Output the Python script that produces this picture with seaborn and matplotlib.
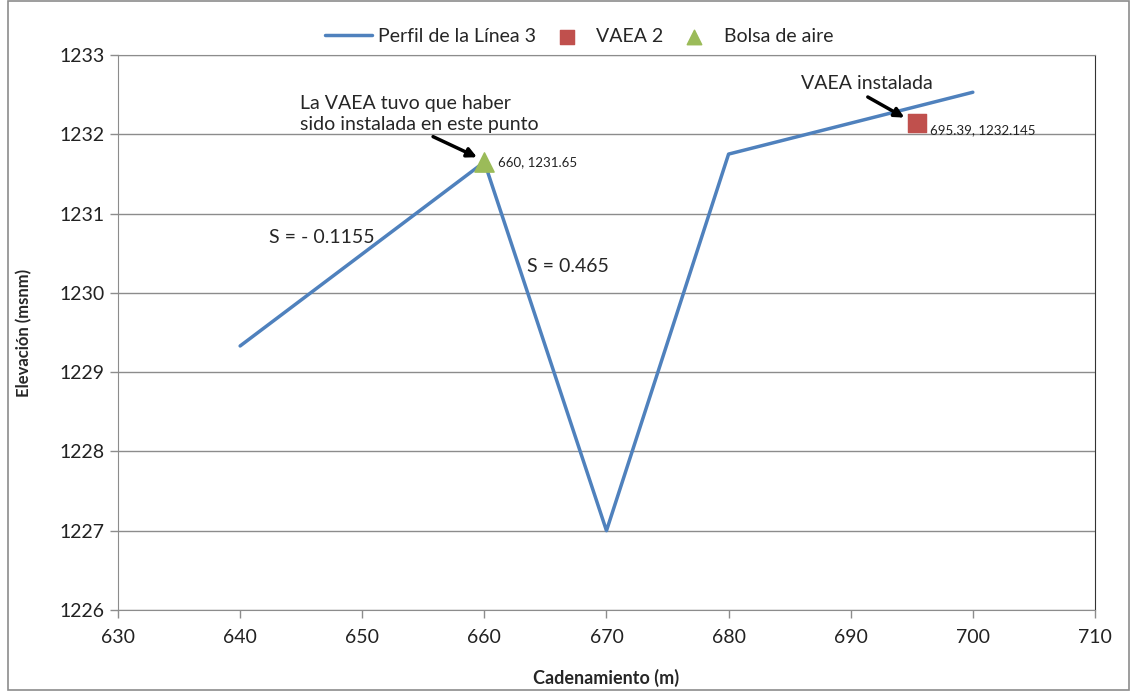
import pandas as pd
import seaborn as sns
import matplotlib.pyplot as plt
from matplotlib.patches import Rectangle

# Perfil de la linea 3
cadenamiento = [640, 660, 670, 680, 700]
elevacion = [1229.33, 1231.65, 1227.0, 1231.75, 1232.53]

# VAEA 2 (instalada)
vaea_x = [695.39]
vaea_y = [1232.145]

# Bolsa de aire
bolsa_x = [660]
bolsa_y = [1231.65]

df = pd.DataFrame({'x': cadenamiento, 'y': elevacion})

sns.set_style('white')
plt.rcParams['font.family'] = ['Lato', 'DejaVu Sans']

fig = plt.figure(figsize=(11.37, 6.96), dpi=100)
ax = fig.add_axes([0.1038, 0.1236, 0.8592, 0.7974])

# outer chart border
fig.patches.append(Rectangle((0.007, 0.008), 0.986, 0.99, transform=fig.transFigure,
                             fill=False, edgecolor='#8c8c8c', linewidth=1.2))

sns.lineplot(data=df, x='x', y='y', ax=ax, color='#4F81BD', linewidth=2.5,
             label='Perfil de la Línea 3', zorder=3)
sns.scatterplot(x=vaea_x, y=vaea_y, ax=ax, marker='s', s=170, color='#C0504D',
                edgecolor='#C0504D', label='VAEA 2', zorder=4)
sns.scatterplot(x=bolsa_x, y=bolsa_y, ax=ax, marker='^', s=190, color='#9BBB59',
                edgecolor='#9BBB59', label='Bolsa de aire', zorder=4)

ax.set_xlim(630, 710)
ax.set_ylim(1226, 1233)
ax.set_xticks(range(630, 711, 10))
ax.set_yticks(range(1226, 1234))
ax.yaxis.grid(True, color='#8c8c8c', linewidth=1.0)
ax.xaxis.grid(False)

for s in ['left', 'bottom']:
    ax.spines[s].set_color('#8c8c8c')
ax.spines['top'].set_color('#8c8c8c')
ax.spines['right'].set_color('#333333')
ax.tick_params(axis='both', which='both', direction='out', length=6, width=1,
               color='#8c8c8c', labelsize=14, labelcolor='#222222', left=True, bottom=True)
ax.tick_params(axis='x', pad=8)

ax.set_xlabel('Cadenamiento (m)', fontsize=13, fontweight='bold', labelpad=16)
ax.set_ylabel('Elevación (msnm)', fontsize=12, fontweight='bold', labelpad=20)

# data labels
ax.text(bolsa_x[0] + 1.1, bolsa_y[0], f'{bolsa_x[0]}, {bolsa_y[0]}', fontsize=9.5,
        va='center', ha='left', color='#222222')
ax.text(vaea_x[0] + 1.1, vaea_y[0] - 0.02, f'{vaea_x[0]}, {vaea_y[0]}', fontsize=9.5,
        va='top', ha='left', color='#222222')

# annotations
ax.text(644.9, 1232.26, 'La VAEA tuvo que haber\nsido instalada en este punto',
        fontsize=14, ha='left', va='center', linespacing=1.3)
ax.annotate('', xy=(659.4, 1231.71), xytext=(655.8, 1231.97),
            arrowprops=dict(arrowstyle='-|>', color='black', lw=2.5, mutation_scale=14,
                            shrinkA=0, shrinkB=0))
ax.text(691.3, 1232.64, 'VAEA instalada', fontsize=14, ha='center', va='center')
ax.annotate('', xy=(694.4, 1232.21), xytext=(691.4, 1232.47),
            arrowprops=dict(arrowstyle='-|>', color='black', lw=2.5, mutation_scale=14,
                            shrinkA=0, shrinkB=0))
ax.text(642.4, 1230.7, 'S = - 0.1155', fontsize=14, ha='left', va='center')
ax.text(663.5, 1230.33, 'S = 0.465', fontsize=14, ha='left', va='center')

ax.legend(loc='lower center', bbox_to_anchor=(0.472, 1.0), ncol=3, frameon=False,
          fontsize=14, handlelength=2.4, columnspacing=0.4, handletextpad=0.3,
          markerscale=0.75, borderaxespad=0.1)

plt.savefig('out.png', dpi=100)
